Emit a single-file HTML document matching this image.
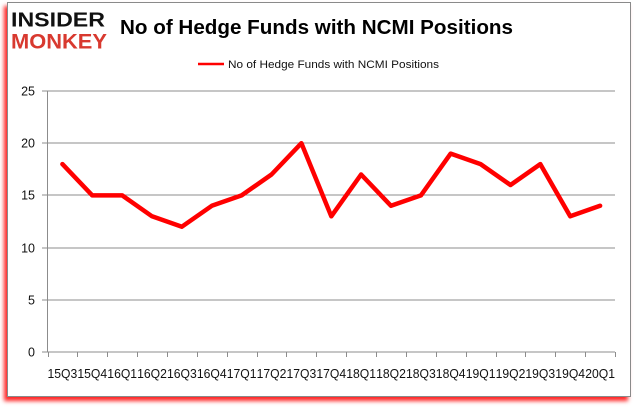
<!DOCTYPE html>
<html><head><meta charset="utf-8"><style>
html,body{margin:0;padding:0;background:#fff;width:637px;height:408px;overflow:hidden}
#frame{position:absolute;left:7px;top:2px;width:622px;height:393px;border:1px solid #8a8a8a;background:#fff;box-shadow:-3px 4px 4px rgba(255,0,0,0.85)}
svg{position:absolute;left:0;top:0}
</style></head><body>
<div id="frame"></div>
<svg width="637" height="408" viewBox="0 0 637 408" xmlns="http://www.w3.org/2000/svg">
<g font-family="Liberation Sans, sans-serif">
<text x="11" y="26.5" font-size="20" font-weight="bold" fill="#111" textLength="94" lengthAdjust="spacingAndGlyphs">INSIDER</text>
<text x="11" y="48.5" font-size="21" font-weight="bold" fill="#d8392f" textLength="96" lengthAdjust="spacingAndGlyphs">MONKEY</text>
<text x="120" y="34" font-size="20.5" font-weight="bold" fill="#000" textLength="393" lengthAdjust="spacingAndGlyphs">No of Hedge Funds with NCMI Positions</text>
<line x1="198" y1="64" x2="224" y2="64" stroke="#ff0000" stroke-width="2.5"/>
<text x="228" y="68" font-size="11" fill="#111" textLength="211" lengthAdjust="spacingAndGlyphs">No of Hedge Funds with NCMI  Positions</text>
</g>
<g stroke="#8c8c8c" stroke-width="1" shape-rendering="crispEdges">
<line x1="42" y1="91" x2="615" y2="91"/>
<line x1="42" y1="143" x2="615" y2="143"/>
<line x1="42" y1="195" x2="615" y2="195"/>
<line x1="42" y1="248" x2="615" y2="248"/>
<line x1="42" y1="300" x2="615" y2="300"/>
<line x1="42" y1="352" x2="615" y2="352"/>
<line x1="47.5" y1="91" x2="47.5" y2="352"/>
</g>
<g stroke="#8c8c8c" stroke-width="1" shape-rendering="crispEdges" id="ticks"></g>
<g font-family="Liberation Sans, sans-serif" font-size="12.5" fill="#111" text-anchor="end">
<text x="35" y="95.5">25</text>
<text x="35" y="147.5">20</text>
<text x="35" y="199.5">15</text>
<text x="35" y="252.5">10</text>
<text x="35" y="304.5">5</text>
<text x="35" y="356.5">0</text>
</g>
<g id="xl" font-family="Liberation Sans, sans-serif" font-size="12.5" fill="#111" text-anchor="middle"></g>
<polyline id="series" fill="none" stroke="#ff0000" stroke-width="4.5" stroke-linejoin="round" stroke-linecap="round" points=""/>
<script>
(function(){
var ns="http://www.w3.org/2000/svg";
var labels=["15Q3","15Q4","16Q1","16Q2","16Q3","16Q4","17Q1","17Q2","17Q3","17Q4","18Q1","18Q2","18Q3","18Q4","19Q1","19Q2","19Q3","19Q4","20Q1"];
var data=[18,15,15,13,12,14,15,17,20,13,17,14,15,19,18,16,18,13,14];
var x0=47.5,w=(615-47.5)/19,y0=352,sc=261/25;
var t=document.getElementById("ticks"),xl=document.getElementById("xl");
for(var i=0;i<=19;i++){var l=document.createElementNS(ns,"line");var x=Math.round(x0+i*w)+0.5;l.setAttribute("x1",x);l.setAttribute("x2",x);l.setAttribute("y1",352);l.setAttribute("y2",357);t.appendChild(l);}
var pts=[];
for(var i=0;i<19;i++){var cx=x0+(i+0.5)*w;var tx=document.createElementNS(ns,"text");tx.setAttribute("x",cx.toFixed(1));tx.setAttribute("y",378);tx.setAttribute("textLength",29.8);tx.setAttribute("lengthAdjust","spacingAndGlyphs");tx.textContent=labels[i];xl.appendChild(tx);pts.push(cx.toFixed(1)+","+(y0-data[i]*sc).toFixed(1));}
document.getElementById("series").setAttribute("points",pts.join(" "));
})();
</script>
</svg>
</body></html>
